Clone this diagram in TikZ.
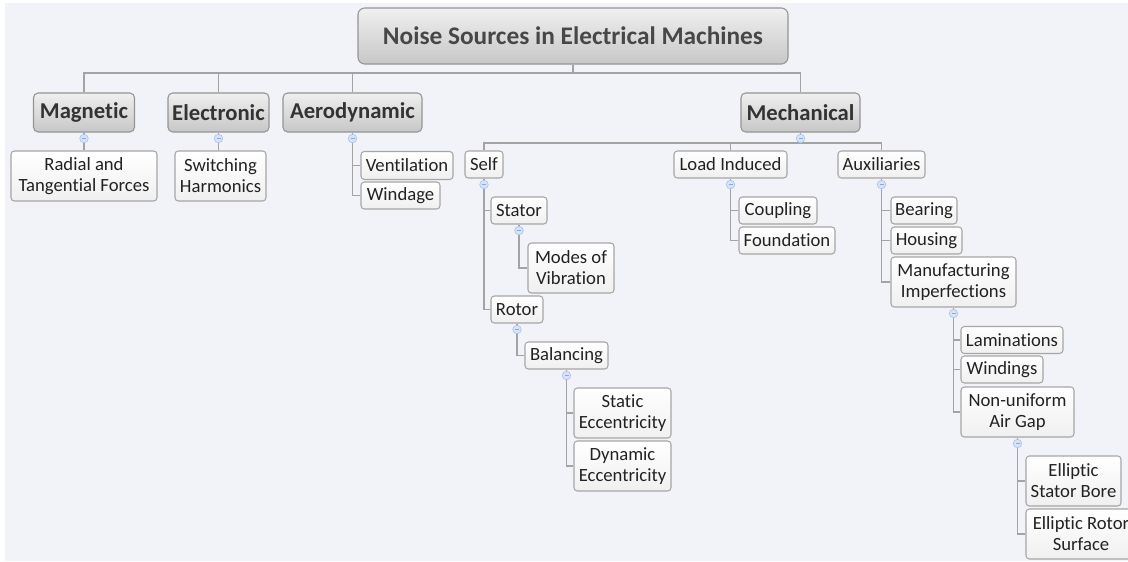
\documentclass[tikz,border=0pt]{standalone}
\usepackage{fontspec}
\setmainfont{Carlito}[Ligatures={NoCommon,NoRequired,NoContextual}]
\definecolor{bgc}{HTML}{F2F3F8}
\definecolor{linec}{HTML}{A3A3A3}
\definecolor{boxline}{HTML}{A6A6A6}
\definecolor{pboxline}{HTML}{959595}
\definecolor{txt}{HTML}{222222}
\definecolor{ptxt}{HTML}{333333}
\definecolor{togfill}{HTML}{D6E3F8}
\definecolor{togline}{HTML}{AEC4EA}
\definecolor{togminus}{HTML}{8EA8D6}
\tikzset{
  sz/.style 2 args={minimum width=#1*0.75pt, minimum height=#2*0.75pt},
  leaf/.style={draw=boxline, line width=0.8pt, rounded corners=2.5pt, top color=white, bottom color=black!6,
    inner sep=0pt, align=center, text=txt, font=\fontsize{14}{15.75}\selectfont},
  topic/.style={draw=pboxline, line width=0.8pt, rounded corners=3.5pt, top color=black!6, bottom color=black!22,
    inner sep=0pt, align=center, text=ptxt, font=\fontsize{17}{20}\selectfont\bfseries},
  rootbox/.style={topic, rounded corners=5pt, font=\fontsize{19}{22}\selectfont\bfseries, text=black!72},
  conn/.style={draw=linec, line width=1.1pt},
  tog/.style={circle, draw=togline, fill=togfill, line width=0.5pt, minimum size=6.4pt, inner sep=0pt,
    path picture={\draw[togminus, line width=0.5pt] ([xshift=-1.5pt]path picture bounding box.center) -- ([xshift=1.5pt]path picture bounding box.center);}}
}
\begin{document}
\begin{tikzpicture}[x=0.75pt, y=-0.75pt]
\useasboundingbox (0,0) rectangle (1128,561);
\fill[white] (0,0) rectangle (1128,561);
\fill[bgc] (5,3) rectangle (1128,561);

% root and main topics
\node[rootbox, sz={430}{56}] (root) at (573,36) {Noise Sources in Electrical Machines};
\node[topic, sz={101}{39}] (magnetic) at (84,112.5) {Magnetic};
\node[topic, sz={101}{39}] (electronic) at (218.5,112.5) {Electronic};
\node[topic, sz={139}{39}] (aero) at (352.5,112.5) {Aerodynamic};
\node[topic, sz={119}{39}] (mech) at (800.5,112.5) {Mechanical};

% leaves
\node[leaf, sz={146}{50}] (radial) at (84,176) {Radial and\\Tangential Forces};
\node[leaf, sz={91}{50}] (switching) at (220.5,176) {Switching\\Harmonics};
\node[leaf, sz={92}{28}] (vent) at (407,165.5) {Ventilation};
\node[leaf, sz={79}{27}] (wind) at (400.5,195.5) {Windage};

\node[leaf, sz={38}{27}] (self) at (484,164.5) {Self};
\node[leaf, sz={113}{27}] (load) at (730.5,164.5) {Load Induced};
\node[leaf, sz={87}{27}] (aux) at (881.5,164.5) {Auxiliaries};

\node[leaf, sz={56}{27}] (stator) at (519,210.5) {Stator};
\node[leaf, sz={86}{50}] (modes) at (571,268) {Modes of\\Vibration};
\node[leaf, sz={52}{27}] (rotor) at (517,309.5) {Rotor};
\node[leaf, sz={83}{27}] (balancing) at (566.5,355.5) {Balancing};
\node[leaf, sz={97}{50}] (static) at (622.5,413) {Static\\Eccentricity};
\node[leaf, sz={97}{50}] (dynamic) at (622.5,466) {Dynamic\\Eccentricity};

\node[leaf, sz={78}{27}] (coupling) at (778,210.5) {Coupling};
\node[leaf, sz={96}{27}] (foundation) at (787,240.5) {Foundation};

\node[leaf, sz={66}{27}] (bearing) at (924,210.5) {Bearing};
\node[leaf, sz={71}{27}] (housing) at (926.5,240.5) {Housing};
\node[leaf, sz={125}{50}] (manuf) at (953.5,282) {Manufacturing\\Imperfections};
\node[leaf, sz={102}{27}] (lamin) at (1012,340) {Laminations};
\node[leaf, sz={82}{27}] (windings) at (1002,369.5) {Windings};
\node[leaf, sz={113}{50}] (nonuni) at (1017.5,412) {Non-uniform\\Air Gap};
\node[leaf, sz={95}{50}] (ellstat) at (1073.5,481) {Elliptic\\Stator Bore};
\node[leaf, sz={110}{50}] (ellrot) at (1081,534) {Elliptic Rotor\\Surface};

% connectors
\coordinate (bus) at (573,73);
\coordinate (mbus) at (800.5,143);
\draw[conn] (root.south) -- (bus);
\draw[conn] (magnetic.north) |- (bus) -| (mech.north);
\draw[conn] (electronic.north) -- (electronic.north |- bus);
\draw[conn] (aero.north) -- (aero.north |- bus);

\draw[conn] (magnetic.south) -- (magnetic.south |- radial.north);
\draw[conn] (electronic.south) -- (electronic.south |- switching.north);
\draw[conn] (aero.south) |- (vent.west);
\draw[conn] (aero.south) |- (wind.west);

\draw[conn] (mech.south) -- (mbus);
\draw[conn] (self.north) |- (mbus) -| (aux.north);
\draw[conn] (load.north) -- (load.north |- mbus);

\draw[conn] (self.south) |- (stator.west);
\draw[conn] (self.south) |- (rotor.west);
\draw[conn] (stator.south) |- (modes.west);
\draw[conn] (rotor.south) |- (balancing.west);
\draw[conn] (balancing.south) |- (static.west);
\draw[conn] (balancing.south) |- (dynamic.west);

\draw[conn] (load.south) |- (coupling.west);
\draw[conn] (load.south) |- (foundation.west);

\draw[conn] (aux.south) |- (bearing.west);
\draw[conn] (aux.south) |- (housing.west);
\draw[conn] (aux.south) |- (manuf.west);
\draw[conn] (manuf.south) |- (lamin.west);
\draw[conn] (manuf.south) |- (windings.west);
\draw[conn] (manuf.south) |- (nonuni.west);
\draw[conn] (nonuni.south) |- (ellstat.west);
\draw[conn] (nonuni.south) |- (ellrot.west);

% collapse toggles
\foreach \n in {magnetic,electronic,aero,mech,self,load,aux,stator,rotor,balancing,manuf,nonuni}
  \node[tog] (\n-tog) at ([yshift=-4.5pt]\n.south) {};
\end{tikzpicture}
\end{document}
